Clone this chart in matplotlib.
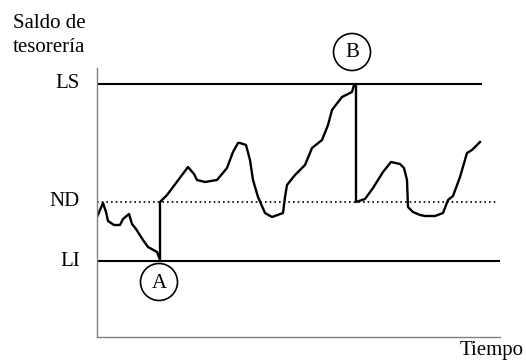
import matplotlib.pyplot as plt
from matplotlib.patches import Circle

# Treasury balance over time (units: time steps, balance units; axis bottom = 0)
t = [0, 6, 9, 11, 17, 23, 26, 32, 35, 39, 46, 51, 60, 63, 63,
     70, 76, 91, 97, 100, 108, 120, 130, 136, 141, 143, 149, 153, 156, 161,
     168, 175, 186, 188, 190, 198, 208, 215, 225, 231, 235, 245, 255, 257, 259,
     259, 268, 276, 286, 294, 303, 307, 310, 311, 316, 323, 328, 338, 346, 351,
     356, 363, 370, 375, 383]
saldo = [120, 134, 125, 116, 112, 112, 118, 123, 113, 108, 97, 90, 85, 77, 135,
         142, 150, 170, 163, 157, 155, 157, 169, 185, 194, 194, 192, 177, 157, 140,
         124, 120, 124, 140, 152, 162, 172, 189, 197, 212, 227, 240, 245, 252, 253,
         135, 138, 149, 165, 175, 173, 169, 157, 130, 125, 122, 121, 121, 124, 137,
         141, 160, 184, 187, 195]

LI, ND, LS = 76, 135, 253
limits = {"LS": LS, "ND": ND, "LI": LI}
marks = {"A": (62, 55), "B": (255, 285)}

plt.rcParams['font.family'] = ['Liberation Serif', 'DejaVu Serif']

fig = plt.figure(figsize=(5.26, 3.63), dpi=100)
ax = fig.add_axes([97 / 526, 26 / 363, 403 / 526, 269 / 363])
ax.set_xlim(0, 403)
ax.set_ylim(0, 269)

for s in ['top', 'right']:
    ax.spines[s].set_visible(False)
for s in ['left', 'bottom']:
    ax.spines[s].set_color('#808080')
    ax.spines[s].set_linewidth(1.0)
ax.set_xticks([])
ax.set_yticks([])

ax.hlines(LS, 0, 385, color='black', lw=1.5)
ax.hlines(LI, 0, 403, color='black', lw=1.5)
ax.hlines(ND, 0, 401, color='black', lw=1.2, linestyles=(0, (1, 1.8)))

ax.plot(t, saldo, color='black', lw=1.7, solid_joinstyle='round')

for name, y in limits.items():
    ax.text(-17, y, name, ha='right', va='center', fontsize=15, clip_on=False)

for name, (cx, cy) in marks.items():
    ax.add_patch(Circle((cx, cy), 18.5, fill=False, ec='black', lw=1.2, clip_on=False))
    ax.text(cx, cy - 1, name, ha='center', va='center', fontsize=15, clip_on=False)

fig.text(13 / 526, 1 - 24 / 363, 'Saldo de', ha='left', va='center', fontsize=15)
fig.text(13 / 526, 1 - 48 / 363, 'tesorería', ha='left', va='center', fontsize=15)
fig.text(460 / 526, 1 - 351 / 363, 'Tiempo', ha='left', va='center', fontsize=15)

fig.savefig('out.png', dpi=100)
